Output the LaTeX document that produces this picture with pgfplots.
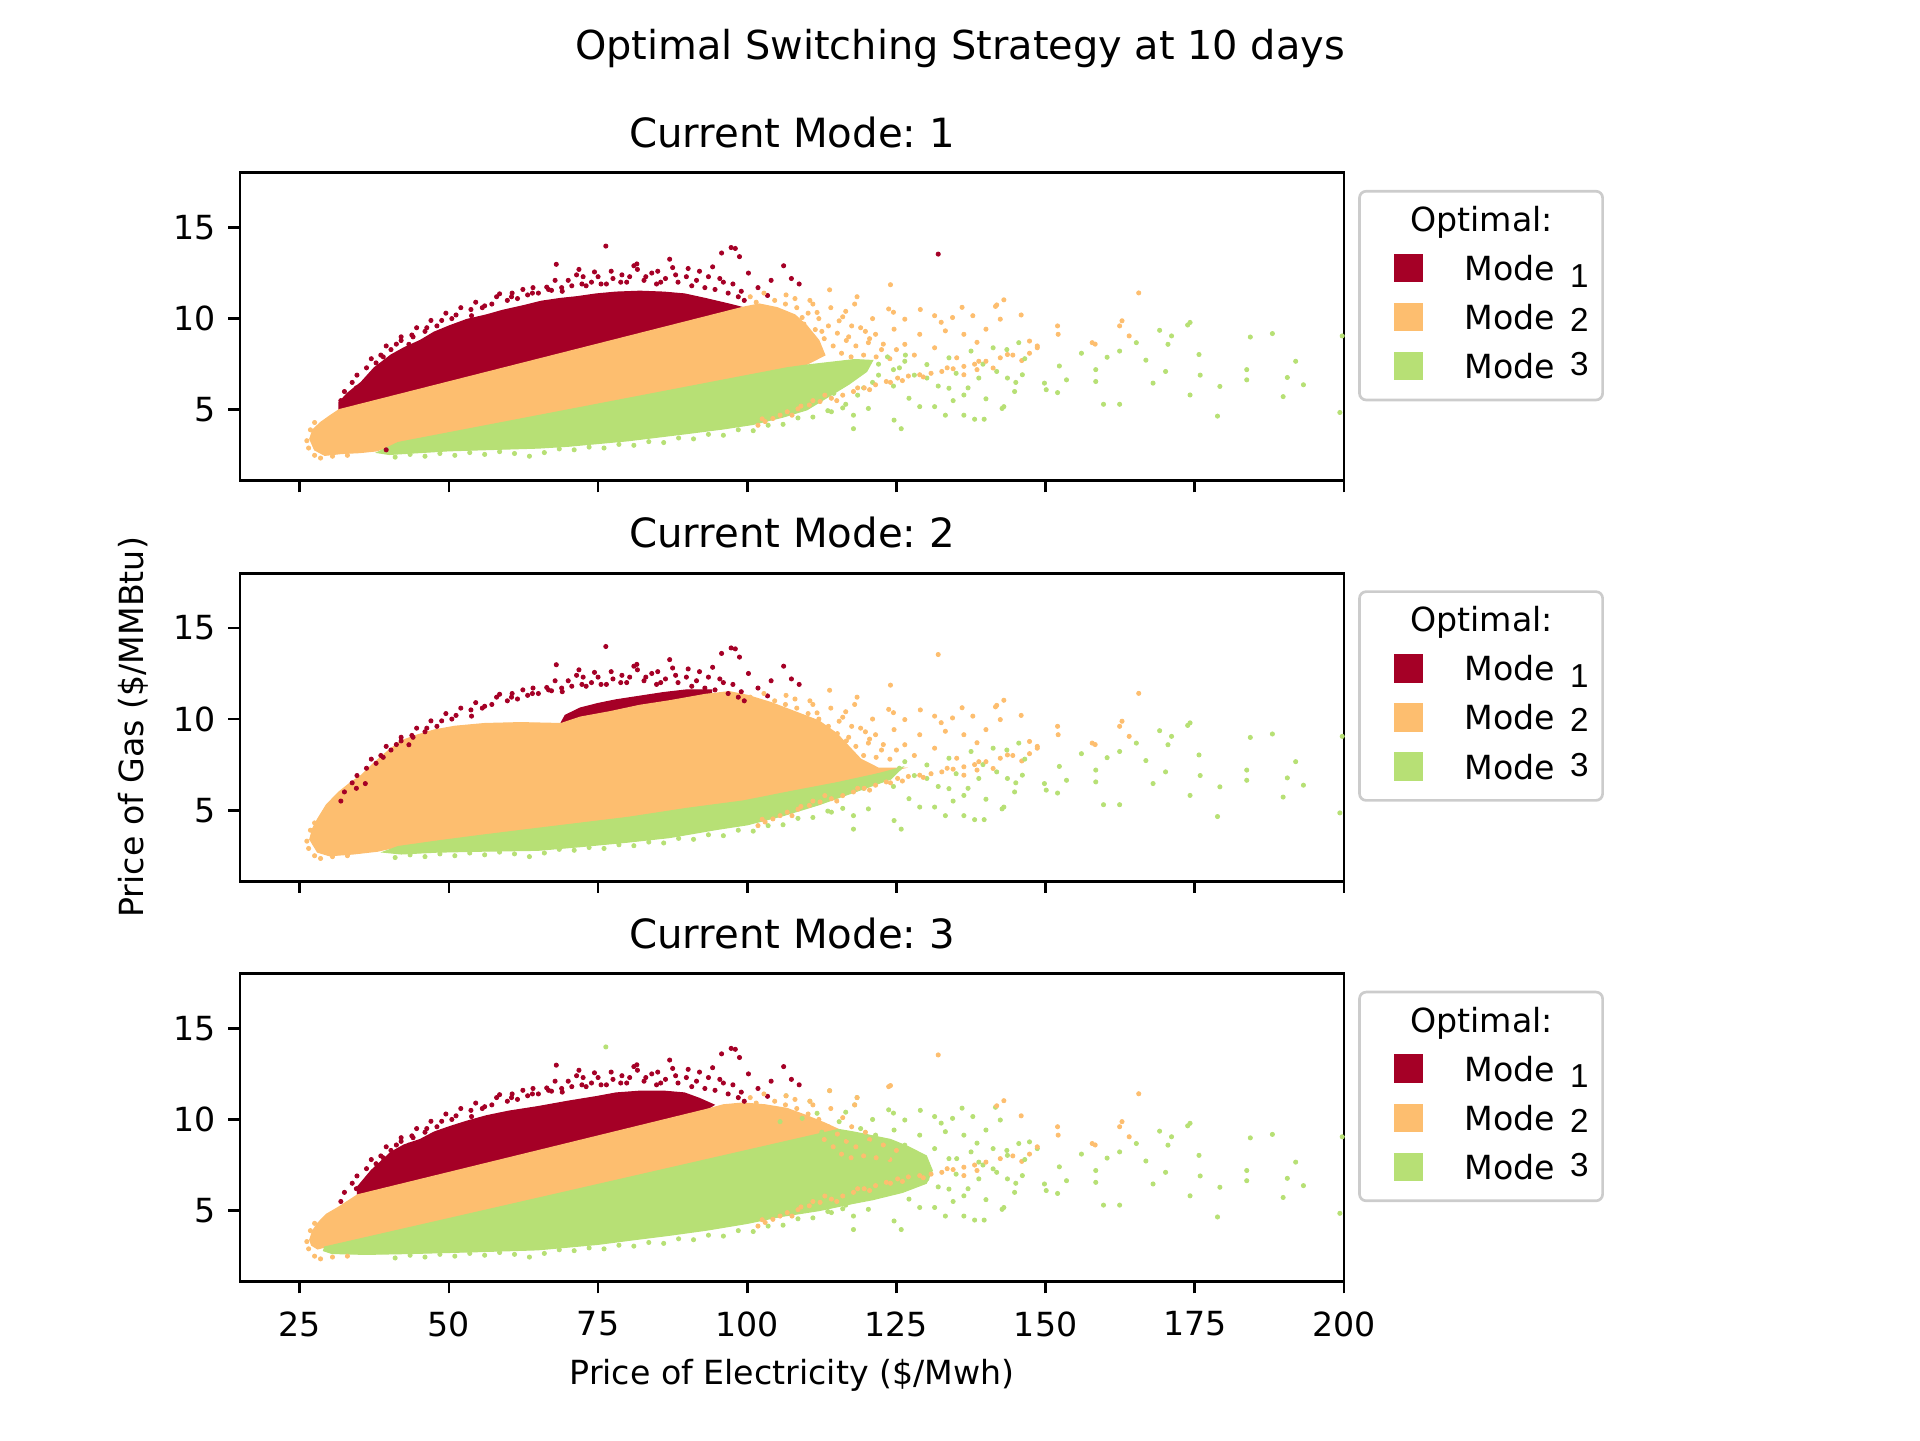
\documentclass[border=0pt]{standalone}
\usepackage{fontspec}
\setmainfont{DejaVu Sans}
\newfontfamily\libsans{Liberation Sans}
\usepackage{pgfplots}
\pgfplotsset{compat=1.18}
\usepackage{pgfplotstable}
\definecolor{cR}{RGB}{165,0,38}
\definecolor{cO}{RGB}{253,190,111}
\definecolor{cG}{RGB}{183,224,117}
\frenchspacing

% red outliers above the dense red cloud
\pgfplotstableread{
x y
97.3 13.9
98.0 13.85
95.7 13.6
98.7 13.4
68.0 12.98
71.8 12.7
74.4 12.56
81.5 13.0
81.6 12.7
87.0 13.26
90.1 12.75
94.2 12.84
100.2 12.5
106.1 12.9
107.4 12.2
108.7 11.9
104.0 12.1
101.8 11.7
103.4 11.27
62.4 11.6
58.5 11.36
56.0 10.7
53.8 10.16
48.0 9.6
43.3 8.59
40.3 8.3
37.8 7.57
36.0 6.46
31.9 5.5
66.4 11.73
67.2 11.55
60.5 11.2
64.0 11.4
70.0 12.1
72.5 12.3
77.5 12.2
79.0 12.4
83.0 12.3
85.0 12.6
88.0 12.4
91.5 12.1
93.5 12.3
96.0 12.0
99.0 11.5
85.5 12.0
79.8 12.0
75.5 11.9
69.0 11.5
73.0 11.8
46.0 9.3
50.5 10.0
44.0 9.0
42.0 8.8
39.0 7.9
34.5 6.2
}\Rout

% red fringe along the upper edge of the red cloud
\pgfplotstableread{
x y
32.5 6.0
33.8 6.5
34.6 6.9
36.2 7.3
37.0 7.8
38.6 8.0
39.5 8.5
41.2 8.6
42.0 9.0
43.8 9.1
44.6 9.5
46.3 9.5
47.0 9.9
48.8 9.9
49.5 10.3
51.2 10.2
52.0 10.6
53.7 10.5
54.5 10.9
55.6 10.6
57.2 10.8
58.0 11.2
59.8 11.0
60.6 11.4
61.5 11.1
63.2 11.3
64.1 11.7
65.0 11.4
66.7 11.6
67.8 12.1
68.9 11.7
70.6 11.8
71.4 12.4
72.3 11.9
73.9 12.0
75.0 12.3
76.4 11.9
77.2 12.6
78.8 12.0
80.3 12.3
81.0 12.9
82.7 12.1
84.0 12.5
84.8 11.9
86.3 12.2
87.5 12.8
88.4 12.0
89.8 12.3
90.7 11.8
92.0 12.6
92.9 11.7
94.6 11.6
95.4 12.2
96.8 11.4
97.6 11.9
98.5 11.2
99.5 11.0
}\Rfringe

% orange points far to the right
\pgfplotstableread{
x y
165.6 11.41
162.8 9.88
162.4 9.6
164.0 9.05
152.0 9.6
152.1 9.14
157.8 8.68
158.3 8.6
148.6 8.5
147.3 8.1
146.0 7.7
145.9 10.2
143.0 11.03
141.8 10.75
124.0 11.86
}\Ofar

% orange fringe at the upper right of the dense orange cloud
\pgfplotstableread{
x y
100.5 11.2
101.5 10.9
102.8 11.4
103.5 10.5
104.6 11.0
105.8 10.3
106.4 10.8
107.6 10.0
108.3 10.6
109.5 9.7
110.2 10.3
111.4 9.4
112.0 10.0
112.9 8.9
113.6 9.6
114.4 8.5
115.1 9.2
115.8 8.1
116.6 8.8
117.4 7.9
118.2 8.5
119.5 8.0
120.5 8.9
121.6 7.9
122.8 8.6
123.9 7.8
125.0 8.3
114.0 10.6
116.0 10.1
117.5 9.6
119.8 9.3
108.0 11.1
111.0 10.8
}\Ofringe

% green points far to the right
\pgfplotstableread{
x y
199.7 9.05
199.3 4.85
188.0 9.18
191.9 7.66
193.2 6.37
190.5 6.77
189.8 5.72
184.3 8.99
183.7 7.2
183.7 6.64
178.8 4.65
179.2 6.28
175.7 8.03
175.9 6.9
174.2 9.79
173.8 9.65
171.1 9.05
170.5 8.59
169.1 9.36
174.2 5.81
168.0 6.46
170.1 7.1
166.8 7.72
165.2 8.68
162.4 8.22
160.3 7.88
159.7 5.3
162.4 5.3
158.4 7.2
158.4 6.55
156.0 8.1
153.5 6.64
152.3 7.4
152.0 5.94
149.8 6.46
150.1 6.1
146.1 6.92
139.7 4.48
138.1 4.48
142.7 5.07
133.2 4.7
125.8 3.96
117.8 3.96
}\Gfar

% green scatter beyond the dense green cloud
\pgfplotstableread{
x y
126.4 7.66
130.1 7.48
133.8 7.85
137.5 8.22
141.2 8.4
143.5 8.3
145.5 8.68
130.1 6.74
133.8 6.18
136.3 5.81
138.8 6.74
143.6 6.74
144.8 6.0
143.0 5.17
131.4 5.17
127.1 5.63
124.6 4.43
120.3 5.07
117.8 4.7
114.1 4.89
128.9 5.17
136.3 4.7
140.0 5.6
135.0 7.0
139.5 7.5
141.8 7.1
132.0 6.3
128.0 6.9
124.5 6.3
122.0 6.9
119.5 6.2
125.5 7.3
134.5 5.5
146.5 7.8
145.0 6.5
137.0 6.2
}\Gmid

% green fringe at the right end of the dense green cloud
\pgfplotstableread{
x y
107.5 6.2
109.0 6.8
111.0 6.4
112.5 7.0
114.5 6.9
116.0 7.2
118.0 7.0
120.0 7.4
122.0 7.5
123.5 7.9
121.0 6.5
118.5 5.8
116.5 5.3
114.5 5.9
112.0 5.6
124.5 7.2
126.5 8.0
}\Gright

% upper-right scatter (orange in modes 1 and 2)
\pgfplotstableread{
x y
113.8 11.58
118.4 11.2
118.0 10.8
123.7 10.53
124.5 10.35
126.4 9.97
131.4 10.16
134.4 10.06
136.0 10.62
137.8 10.16
141.6 10.67
142.4 9.97
140.0 9.42
136.3 9.14
133.2 9.33
128.9 9.14
124.6 9.42
121.5 9.14
119.0 9.5
115.4 9.88
111.7 10.34
109.2 10.06
105.5 9.88
120.3 8.68
126.4 8.59
131.4 8.4
135.1 7.85
138.8 7.66
141.2 7.29
143.6 8.03
148.6 8.4
147.3 8.77
116.5 10.4
121.0 10.0
129.0 10.5
112.5 9.3
117.0 9.0
122.5 8.3
128.0 8.0
132.5 9.8
138.5 8.7
110.5 11.0
106.5 11.3
}\Omid

% orange streak below the green cloud
\pgfplotstableread{
x y
101.8 4.15
103.0 4.35
104.3 4.52
105.5 4.7
106.7 4.89
108.5 5.05
110.4 5.26
112.2 5.45
114.1 5.63
116.0 5.8
117.8 6.0
119.6 6.2
121.5 6.37
123.3 6.55
125.2 6.74
127.0 6.85
128.9 6.92
130.8 7.0
132.6 7.1
134.5 7.25
136.3 7.38
138.1 7.5
140.0 7.66
142.4 7.85
136.3 6.92
138.5 7.2
144.5 8.0
107.5 4.7
111.0 5.5
115.0 5.5
120.5 6.1
124.0 6.5
129.5 6.8
133.5 7.3
102.5 4.5
109.0 5.2
113.0 5.8
118.5 6.2
126.0 6.6
}\Ostreak

% green lower fringe
\pgfplotstableread{
x y
41 2.4
43.5 2.55
46 2.45
48.5 2.6
51 2.5
53.5 2.65
56 2.55
58.5 2.7
61 2.6
63.5 2.45
66 2.65
68.5 2.85
71 2.8
73.5 2.95
76 2.9
78.5 3.1
81 3.05
83.5 3.25
86 3.2
88.5 3.45
91 3.4
93.5 3.65
96 3.6
98.5 3.9
101 3.85
103.5 4.15
106 4.2
108.5 4.55
111 4.6
113.5 4.95
116 5.1
}\Gbot

% orange left fringe
\pgfplotstableread{
x y
26.2 3.3
26.5 2.9
27.5 2.5
28.5 2.35
30.5 2.45
33 2.5
26.8 3.9
27.5 4.3
}\Oleft

\pgfplotsset{
  panel/.style={
    scale only axis, width=264.96bp, height=73.92bp,
    anchor=south west,
    xmin=15, xmax=200, ymin=1.1, ymax=18,
    xtick={25,50,75,100,125,150,175,200}, ytick={5,10,15},
    tick align=outside, tick pos=left,
    major tick length=2.8bp,
    every tick/.style={black, line width=0.64bp},
    axis line style={black, line width=0.64bp},
    /pgf/number format/assume math mode=true,
    ticklabel style={font=\fontsize{8}{9.6}\selectfont, inner sep=0pt},
    xticklabel style={anchor=north, yshift=-4.2bp},
    yticklabel style={anchor=east, xshift=-2.8bp},
    every axis title shift=0pt,
    title style={font=\fontsize{9.7}{11.6}\selectfont, at={(0.5,1)}, anchor=base, yshift=6.1bp},
    legend cell align=left,
    legend style={at={(1,1)}, anchor=north west, xshift=3.4bp, yshift=-4.1bp,
      draw=black!20, line width=0.64bp, rounded corners=1.6bp, fill=white,
      inner xsep=3.4bp, inner ysep=1.45bp, column sep=1.8bp, row sep=0pt,
      font=\fontsize{8}{9.6}\selectfont,
      nodes={inner sep=0pt, text height=8.15bp, text depth=3.65bp},
      cells={anchor=base west}},
    legend image code/.code={
      \path[draw=none, fill=none] (0bp,0bp) -- (20bp,0bp);
      \draw[##1, sharp corners, line width=0pt, mark size=3.3bp] plot coordinates {(8.3bp,3bp)};
    },
  },
  dot/.style={only marks, mark=*, mark size=0.5bp, line width=0.2bp, color=#1, forget plot},
  poly/.style={draw=#1, fill=#1, line width=0.3bp, forget plot},
}

\newcommand{\modelegend}{%
  \addlegendimage{empty legend}
  \addlegendentry{\hspace*{-13bp}Optimal:}
  \addlegendimage{only marks, mark=square*, color=cR}
  \addlegendentry{Mode\hspace{3.6bp}\raisebox{-1.6bp}{\libsans 1}}
  \addlegendimage{only marks, mark=square*, color=cO}
  \addlegendentry{Mode\hspace{3.6bp}\raisebox{-0.4bp}{\libsans 2}}
  \addlegendimage{only marks, mark=square*, color=cG}
  \addlegendentry{Mode\hspace{3.6bp}\raisebox{0.7bp}{\libsans 3}}
}

\begin{document}
\begin{tikzpicture}
\path[use as bounding box] (0bp,0bp) rectangle (460.8bp,345.6bp);
\node[font=\fontsize{9.6}{11.5}\selectfont, anchor=base] at (230.4bp,331.4bp) {Optimal Switching Strategy at 10 days};

% ---------------- Current Mode 1 ----------------
\begin{axis}[panel, at={(57.6bp,230.2bp)}, title={Current Mode: 1}, xticklabels={}]
\modelegend
\addplot[dot=cR] table {\Rfringe};
\addplot[poly=cR] coordinates {(31.6,5.0) (31.6,5.4) (33,5.9) (35.3,6.5) (37.5,7.3) (40.3,8.0) (42.5,8.4) (45.2,8.8) (47.5,9.25) (50.1,9.6) (53,9.95) (56.3,10.2) (59,10.45) (62.4,10.7) (65.5,10.95) (68.6,11.1) (71.5,11.2) (74.7,11.35) (78,11.45) (82,11.5) (86,11.45) (89.5,11.35) (93,11.1) (96.9,10.8) (99.3,10.6)} -- cycle;
\addplot[dot=cR] table {\Rout};
\addplot[dot=cR] coordinates {(76.3,13.98) (132.0,13.54) (39.5,2.8)};
\addplot[dot=cO] table {\Ofringe};
\addplot[poly=cO] coordinates {(26.7,3.4) (27.2,3.9) (28.5,4.3) (30,4.65) (31.6,5.0) (99.3,10.62) (102,10.8) (105,10.6) (108,10.2) (110,9.6) (112,8.8) (113,8.0) (110,7.5) (106.7,7.3) (41.5,3.2) (38,2.75) (35,2.65) (32,2.6) (29.2,2.5) (27.5,2.8)} -- cycle;
\addplot[dot=cG] table {\Gright};
\addplot[poly=cG] coordinates {(38,2.65) (41.5,3.2) (106.7,7.3) (110,7.45) (114,7.6) (118,7.75) (121,7.7) (120,7.1) (117,6.4) (113,5.6) (110,5.0) (106,4.6) (101,4.2) (96,3.95) (90,3.7) (85,3.5) (80,3.3) (75,3.15) (70,3.0) (65,2.9) (60,2.85) (55,2.8) (50,2.75) (45,2.65) (40,2.55)} -- cycle;
\addplot[dot=cO] table {\Omid};
\addplot[dot=cO] table {\Ofar};
\addplot[dot=cO] table {\Oleft};
\addplot[dot=cG] table {\Gmid};
\addplot[dot=cG] table {\Gfar};
\addplot[dot=cG] table {\Gbot};
\addplot[dot=cO] table {\Ostreak};
\end{axis}

% ---------------- Current Mode 2 ----------------
\begin{axis}[panel, at={(57.6bp,134.1bp)}, title={Current Mode: 2}, xticklabels={},
  ylabel={Price of Gas (\$/MMBtu)},
  every axis y label/.style={at={(axis description cs:-0.097,0.5)}, rotate=90, anchor=center, font=\fontsize{8}{9.6}\selectfont}]
\modelegend
\addplot[dot=cR] table {\Rout};
\addplot[dot=cR] table {\Rfringe};
\addplot[dot=cR] coordinates {(76.3,13.98)};
\addplot[poly=cR] coordinates {(68.5,9.6) (69.5,10.2) (72,10.6) (75,10.85) (78,11.05) (82,11.25) (86,11.45) (90,11.6) (94,11.6) (94,10.8) (70,9.4)} -- cycle;
\addplot[dot=cO] table {\Ofringe};
\addplot[poly=cO] coordinates {(26.7,3.4) (27.2,4.0) (28,4.5) (29.5,5.3) (31.6,6.0) (33.5,6.5) (35.3,6.9) (37.5,7.6) (40,8.3) (42,8.8) (44.5,9.1) (47.6,9.4) (51,9.6) (56,9.75) (62,9.8) (68.8,9.75) (72,10.1) (77,10.4) (82,10.75) (87,11.0) (93,11.35) (97,11.5) (100,11.3) (104,10.9) (108,10.4) (112,9.9) (115,9.2) (117,8.5) (119,7.8) (122,7.3) (126,7.3) (115,6.5) (107,6.0) (99.3,5.5) (90,5.1) (80,4.6) (64.9,4.0) (55,3.6) (48,3.3) (41.5,3.0) (38,2.75) (34,2.6) (30,2.5) (28,2.7)} -- cycle;
\addplot[poly=cG] coordinates {(41.5,3.0) (48,3.3) (55,3.6) (64.9,4.0) (80,4.6) (90,5.1) (99.3,5.5) (107,6.0) (115,6.5) (122,7.0) (126,7.35) (124,6.7) (118,6.0) (112,5.3) (106,4.7) (100,4.2) (95,3.95) (87,3.5) (80,3.25) (72,3.0) (64.9,2.8) (55,2.75) (48,2.7) (42,2.6) (39,2.7)} -- cycle;
\addplot[dot=cO] table {\Omid};
\addplot[dot=cO] table {\Ofar};
\addplot[dot=cO] table {\Oleft};
\addplot[dot=cO] coordinates {(132.0,13.54)};
\addplot[dot=cG] table {\Gmid};
\addplot[dot=cG] table {\Gfar};
\addplot[dot=cG] table {\Gbot};
\addplot[dot=cO] table {\Ostreak};
\end{axis}

% ---------------- Current Mode 3 ----------------
\begin{axis}[panel, at={(57.6bp,38.0bp)}, title={Current Mode: 3},
  xlabel={Price of Electricity (\$/Mwh)},
  every axis x label/.style={at={(axis description cs:0.5,0)}, anchor=base, yshift=-24.6bp, font=\fontsize{8}{9.6}\selectfont}]
\modelegend
\addplot[dot=cR] table {\Rfringe};
\addplot[poly=cR] coordinates {(34.7,5.86) (34.7,6.3) (37,7.2) (40.3,8.2) (42.5,8.6) (45.2,8.9) (47.5,9.3) (50.1,9.6) (53,9.9) (56.3,10.2) (60,10.45) (64.9,10.7) (70,11.0) (74.7,11.25) (78,11.45) (82.1,11.55) (86,11.55) (89.5,11.45) (92,11.15) (94.4,10.8) (93.2,10.55)} -- cycle;
\addplot[dot=cR] table {\Rout};
\addplot[dot=cO] table {\Ofringe};
\addplot[poly=cO] coordinates {(26.7,3.4) (27.2,3.9) (28,4.3) (29.5,4.8) (31.6,5.2) (33,5.5) (34.7,5.86) (93.2,10.55) (96,10.8) (99.3,10.9) (103,10.8) (106.7,10.6) (110,10.2) (113,9.8) (115.3,9.45) (29.2,3.0) (28,2.9) (27,3.1)} -- cycle;
\addplot[dot=cG] table {\Gright};
\addplot[poly=cG] coordinates {(29.2,3.0) (115.3,9.45) (118,9.3) (121,9.1) (124,8.9) (127,8.5) (130,8.0) (131,7.2) (130,6.5) (126,6.0) (121,5.6) (117.8,5.4) (112,5.0) (105.5,4.67) (100,4.3) (93.2,3.93) (87,3.65) (80.9,3.4) (75,3.15) (70,3.0) (64.9,2.85) (55,2.75) (43.9,2.65) (36,2.6) (30.4,2.65) (29,2.8)} -- cycle;
\addplot[dot=cG] table {\Omid};
\addplot[dot=cO] coordinates {(113.8,11.58) (118.4,11.2) (118.0,10.8) (110.5,11.0) (106.5,11.3) (123.7,11.8) (132.0,13.54)};
\addplot[dot=cO] table {\Ofar};
\addplot[dot=cO] table {\Oleft};
\addplot[dot=cG] coordinates {(76.3,13.98)};
\addplot[dot=cG] table {\Gmid};
\addplot[dot=cG] table {\Gfar};
\addplot[dot=cG] table {\Gbot};
\addplot[dot=cO] table {\Ostreak};
\end{axis}
\end{tikzpicture}
\end{document}
